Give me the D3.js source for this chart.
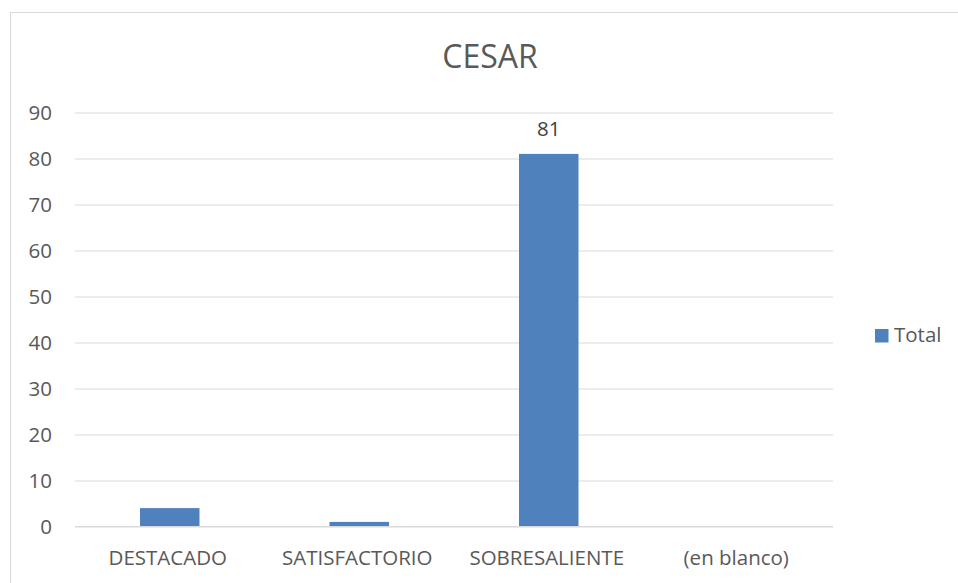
<!DOCTYPE html>
<html>
<head>
<meta charset="utf-8">
<script src="https://cdn.jsdelivr.net/npm/d3@7"></script>
<style>
  body { margin: 0; background: #fff; }
  svg { display: block; font-family: "Open Sans", sans-serif; }
</style>
</head>
<body>
<svg id="chart" width="958" height="583"></svg>
<script>
// chart data
const categories = ["DESTACADO", "SATISFACTORIO", "SOBRESALIENTE", "(en blanco)"];
const totals = [4, 1, 81, 0];
const yTicks = [0, 10, 20, 30, 40, 50, 60, 70, 80, 90];
const labelledValues = [81];
const seriesName = "Total";
const chartTitle = "CESAR";

const svg = d3.select("#chart");
const barColor = "#4F81BD";
const textColor = "#595959";
const gridColor = "#d9d9d9";

// outer chart border
svg.append("rect")
  .attr("x", 10.5)
  .attr("y", 12.5)
  .attr("width", 1000)
  .attr("height", 1000)
  .attr("fill", "none")
  .attr("stroke", gridColor);

const x = d3.scaleBand()
  .domain(categories)
  .range([75, 833])
  .paddingInner(0.686)
  .paddingOuter(0.343);

const y = d3.scaleLinear()
  .domain([0, 90])
  .range([526.5, 112.5]);

// gridlines + y labels
const yAxis = svg.append("g")
  .attr("transform", "translate(75,0)")
  .call(d3.axisLeft(y).tickValues(yTicks).tickSize(-758).tickPadding(23));
yAxis.select(".domain").remove();
yAxis.selectAll(".tick line").attr("stroke", gridColor).attr("stroke-width", 1);
yAxis.selectAll(".tick text")
  .attr("fill", textColor)
  .style("font-size", "20.5px")
  .style("font-family", "'Open Sans', sans-serif");

// bars
svg.append("g")
  .selectAll("rect")
  .data(totals)
  .join("rect")
  .attr("x", (d, i) => x(categories[i]))
  .attr("width", x.bandwidth())
  .attr("y", d => y(d))
  .attr("height", d => y(0) - y(d))
  .attr("fill", barColor);

// x axis line
svg.append("line")
  .attr("x1", 75).attr("x2", 833)
  .attr("y1", y(0)).attr("y2", y(0))
  .attr("stroke", gridColor);

// category labels
svg.append("g")
  .selectAll("text")
  .data(categories)
  .join("text")
  .attr("x", d => x(d) + x.bandwidth() / 2 - 2)
  .attr("y", 565)
  .attr("text-anchor", "middle")
  .attr("fill", textColor)
  .style("font-size", "20.5px")
  .text(d => d);

// data label on the big bar
svg.append("g")
  .selectAll("text")
  .data(totals.map((v, i) => ({ v, c: categories[i] })).filter(d => labelledValues.includes(d.v)))
  .join("text")
  .attr("x", d => x(d.c) + x.bandwidth() / 2)
  .attr("y", d => y(d.v) - 18)
  .attr("text-anchor", "middle")
  .attr("fill", "#404040")
  .style("font-size", "20.5px")
  .text(d => d.v);

// title
svg.append("text")
  .attr("x", 490)
  .attr("y", 68)
  .attr("text-anchor", "middle")
  .attr("fill", textColor)
  .style("font-size", "32px")
  .text(chartTitle);

// legend
const legend = svg.append("g").attr("transform", "translate(875,329)");
legend.append("rect")
  .attr("width", 13.5)
  .attr("height", 13.5)
  .attr("fill", barColor);
legend.append("text")
  .attr("x", 19)
  .attr("y", 13)
  .attr("fill", textColor)
  .style("font-size", "20.5px")
  .text(seriesName);
</script>
</body>
</html>
